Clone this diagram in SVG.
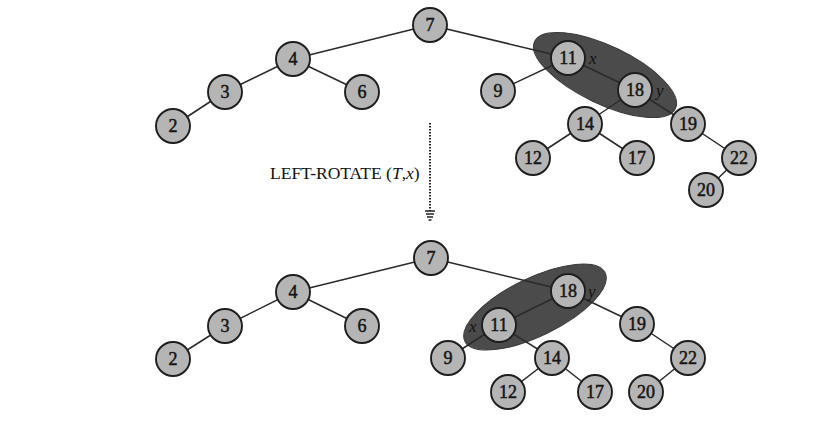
<svg xmlns="http://www.w3.org/2000/svg" width="821" height="421" viewBox="0 0 821 421">
<style>
.n circle{fill:#b5b5b5;stroke:#1e1e1e;stroke-width:1.9}
.n text{font-family:"Liberation Serif",serif;font-size:18px;fill:#151515;stroke:#151515;stroke-width:0.5;text-anchor:middle;dominant-baseline:central}
.e line{stroke:#2a2a2a;stroke-width:1.5}
.hl{fill:#4b4b4b;stroke:#3a3a3a;stroke-width:1}
.lbl{font-family:"Liberation Serif",serif;font-size:17px;font-style:italic;fill:#111}
.cap{font-family:"Liberation Serif",serif;font-size:17.5px;fill:#111}
</style>
<rect width="821" height="421" fill="#fff"/>
<g id="highlights">
<ellipse class="hl" cx="605" cy="75" rx="78" ry="29" transform="rotate(25.5 605 75)"/>
<ellipse class="hl" cx="535" cy="307" rx="78" ry="29" transform="rotate(-26 535 307)"/>
</g>
<g id="connectors" class="e">
<line x1="430" y1="25" x2="293" y2="59"/>
<line x1="430" y1="25" x2="568" y2="58"/>
<line x1="293" y1="59" x2="225" y2="92"/>
<line x1="293" y1="59" x2="362" y2="92"/>
<line x1="225" y1="92" x2="173" y2="126"/>
<line x1="568" y1="58" x2="498" y2="91"/>
<line x1="568" y1="58" x2="635" y2="90"/>
<line x1="635" y1="90" x2="585" y2="124"/>
<line x1="635" y1="90" x2="688" y2="124"/>
<line x1="585" y1="124" x2="533" y2="158"/>
<line x1="585" y1="124" x2="637" y2="158"/>
<line x1="688" y1="124" x2="739" y2="158"/>
<line x1="739" y1="158" x2="706" y2="190"/>
<line x1="431" y1="258" x2="293" y2="292"/>
<line x1="431" y1="258" x2="568" y2="291"/>
<line x1="293" y1="292" x2="225" y2="326"/>
<line x1="293" y1="292" x2="362" y2="326"/>
<line x1="225" y1="326" x2="173" y2="359"/>
<line x1="568" y1="291" x2="499" y2="325"/>
<line x1="568" y1="291" x2="637" y2="324"/>
<line x1="499" y1="325" x2="448" y2="358"/>
<line x1="499" y1="325" x2="552" y2="358"/>
<line x1="552" y1="358" x2="508" y2="392"/>
<line x1="552" y1="358" x2="595" y2="392"/>
<line x1="637" y1="324" x2="688" y2="358"/>
<line x1="688" y1="358" x2="646" y2="392"/>
</g>
<g id="arrow">
<line x1="430" y1="123" x2="430" y2="211" stroke="#222" stroke-width="2" stroke-dasharray="1.5 1.5"/>
<path d="M425 211 L435 211 M426 214 L434 214 M427 217 L433 217 M428.5 220 L431.5 220" stroke="#222" stroke-width="1.6"/>
</g>
<text class="cap" x="270" y="179">LEFT-ROTATE (<tspan font-style="italic">T</tspan>,<tspan font-style="italic">x</tspan>)</text>
<g id="t7" class="n"><circle cx="430" cy="25" r="17"/><text x="430" y="25">7</text></g>
<g id="t4" class="n"><circle cx="293" cy="59" r="17"/><text x="293" y="59">4</text></g>
<g id="t3" class="n"><circle cx="225" cy="92" r="17"/><text x="225" y="92">3</text></g>
<g id="t6" class="n"><circle cx="362" cy="92" r="17"/><text x="362" y="92">6</text></g>
<g id="t2" class="n"><circle cx="173" cy="126" r="17"/><text x="173" y="126">2</text></g>
<g id="t11" class="n"><circle cx="568" cy="58" r="17"/><text x="568" y="58">11</text></g>
<g id="t9" class="n"><circle cx="498" cy="91" r="17"/><text x="498" y="91">9</text></g>
<g id="t18" class="n"><circle cx="635" cy="90" r="17"/><text x="635" y="90">18</text></g>
<g id="t14" class="n"><circle cx="585" cy="124" r="17"/><text x="585" y="124">14</text></g>
<g id="t19" class="n"><circle cx="688" cy="124" r="17"/><text x="688" y="124">19</text></g>
<g id="t12" class="n"><circle cx="533" cy="158" r="17"/><text x="533" y="158">12</text></g>
<g id="t17" class="n"><circle cx="637" cy="158" r="17"/><text x="637" y="158">17</text></g>
<g id="t22" class="n"><circle cx="739" cy="158" r="17"/><text x="739" y="158">22</text></g>
<g id="t20" class="n"><circle cx="706" cy="190" r="17"/><text x="706" y="190">20</text></g>
<text class="lbl" x="589" y="64">x</text>
<text class="lbl" x="656" y="96">y</text>
<g id="b7" class="n"><circle cx="431" cy="258" r="17"/><text x="431" y="258">7</text></g>
<g id="b4" class="n"><circle cx="293" cy="292" r="17"/><text x="293" y="292">4</text></g>
<g id="b3" class="n"><circle cx="225" cy="326" r="17"/><text x="225" y="326">3</text></g>
<g id="b6" class="n"><circle cx="362" cy="326" r="17"/><text x="362" y="326">6</text></g>
<g id="b2" class="n"><circle cx="173" cy="359" r="17"/><text x="173" y="359">2</text></g>
<g id="b18" class="n"><circle cx="568" cy="291" r="17"/><text x="568" y="291">18</text></g>
<g id="b11" class="n"><circle cx="499" cy="325" r="17"/><text x="499" y="325">11</text></g>
<g id="b19" class="n"><circle cx="637" cy="324" r="17"/><text x="637" y="324">19</text></g>
<g id="b9" class="n"><circle cx="448" cy="358" r="17"/><text x="448" y="358">9</text></g>
<g id="b14" class="n"><circle cx="552" cy="358" r="17"/><text x="552" y="358">14</text></g>
<g id="b22" class="n"><circle cx="688" cy="358" r="17"/><text x="688" y="358">22</text></g>
<g id="b12" class="n"><circle cx="508" cy="392" r="17"/><text x="508" y="392">12</text></g>
<g id="b17" class="n"><circle cx="595" cy="392" r="17"/><text x="595" y="392">17</text></g>
<g id="b20" class="n"><circle cx="646" cy="392" r="17"/><text x="646" y="392">20</text></g>
<text class="lbl" x="469" y="332">x</text>
<text class="lbl" x="588" y="297">y</text>
</svg>
